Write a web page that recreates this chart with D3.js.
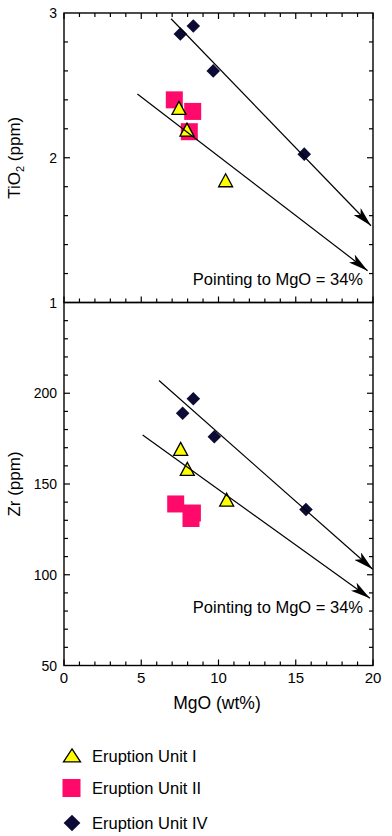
<!DOCTYPE html>
<html><head><meta charset="utf-8">
<script src="https://cdn.jsdelivr.net/npm/d3@7"></script>
<style>
body{margin:0;background:#fff;}
svg{display:block;font-family:"Liberation Sans",Arial,Helvetica,sans-serif;}
</style></head>
<body><svg id="c" width="392" height="836"></svg>
<script>
// ---- data ----
const unitI_MgO   = [7.44, 7.96, 10.46];
const unitI_TiO2  = [2.34, 2.19, 1.84];
const unitI_MgO_Zr = [7.55, 7.98, 10.53];
const unitI_Zr    = [169, 158, 141];

const unitII_MgO  = [7.14, 8.33, 8.11];
const unitII_TiO2 = [2.40, 2.32, 2.18];
const unitII_MgO_Zr = [7.23, 8.31, 8.22];
const unitII_Zr   = [139, 134, 131];

const unitIV_MgO  = [7.53, 8.37, 9.66, 15.55];
const unitIV_TiO2 = [2.855, 2.91, 2.60, 2.025];
const unitIV_MgO_Zr = [7.68, 8.37, 9.73, 15.66];
const unitIV_Zr   = [189, 197, 176, 136];

// trend lines [MgO start, value start, MgO end, value end]
const tiLines = [[6.93, 2.96, 19.87, 1.53], [4.75, 2.44, 19.65, 1.22]];
const zrLines = [[6.15, 207, 19.98, 103], [5.09, 177, 19.8, 87]];

const xTicks = [0, 5, 10, 15, 20];
const tiTicks = [1, 2, 3];
const zrTicks = [50, 100, 150, 200];
const legendLabels = ["Eruption Unit I", "Eruption Unit II", "Eruption Unit IV"];
const annotation = "Pointing to MgO = 34%";

// ---- drawing ----
const svg = d3.select("#c");
const x = d3.scaleLinear().domain([0, 20]).range([64, 373]);
const yTi = d3.scaleLinear().domain([1, 3]).range([302.5, 13]);
const yZr = d3.scaleLinear().domain([50, 250]).range([665.5, 302.5]);

const defs = svg.append("defs");
defs.append("marker").attr("id","arr").attr("viewBox","0 0 20 10")
  .attr("refX",20).attr("refY",5).attr("markerWidth",20).attr("markerHeight",10)
  .attr("markerUnits","userSpaceOnUse").attr("orient","auto")
  .append("path").attr("d","M0,0 L20,5 L0,10 L5,5 Z").attr("fill","#000");

const navy = "#0b0b35", pink = "#ff0a6a", yellow = "#ffff00";

function tri(cx, cy, w, h){ return `M${cx},${cy-h*0.55} L${cx+w/2},${cy+h*0.45} L${cx-w/2},${cy+h*0.45} Z`; }

function panel(y, yMinor, yLabels, ticksTopX, ticksBottomX, mg, vals, lines, title, titleSub, annY){
  const g = svg.append("g");
  const [x0,x1] = x.range(); const [yb,yt] = y.range();
  const tk = g.append("g").attr("stroke","#000").attr("stroke-width",1.2);
  d3.range(0, 21, 1).forEach(v=>{
    const L = v%5===0 ? 6 : 4;
    if (ticksTopX) tk.append("line").attr("x1",x(v)).attr("x2",x(v)).attr("y1",yt).attr("y2",yt+L);
    if (ticksBottomX) tk.append("line").attr("x1",x(v)).attr("x2",x(v)).attr("y1",yb).attr("y2",yb-L);
  });
  yMinor.forEach(v=>{
    tk.append("line").attr("x1",x0).attr("x2",x0+4).attr("y1",y(v)).attr("y2",y(v));
    tk.append("line").attr("x1",x1).attr("x2",x1-4).attr("y1",y(v)).attr("y2",y(v));
  });
  g.append("rect").attr("x",x0).attr("y",yt).attr("width",x1-x0).attr("height",yb-yt)
    .attr("fill","none").attr("stroke","#000").attr("stroke-width",1.4);
  yLabels.forEach(v=>{
    g.append("text").attr("x",x0-7).attr("y",y(v)).attr("dy","0.36em").attr("text-anchor","end")
      .attr("font-size",14).text(v);
  });
  const [mI,vI,mII,vII,mIV,vIV] = [mg[0],vals[0],mg[1],vals[1],mg[2],vals[2]];
  mII.forEach((m,i)=>{ g.append("rect").attr("x",x(m)-8.5).attr("y",y(vII[i])-8.5).attr("width",17).attr("height",17).attr("fill",pink); });
  mI.forEach((m,i)=>{ g.append("path").attr("d",tri(x(m),y(vI[i]),14,13)).attr("fill",yellow).attr("stroke","#000").attr("stroke-width",1.3); });
  mIV.forEach((m,i)=>{ g.append("path").attr("d",d3.symbol(d3.symbolSquare, 92)()).attr("transform",`translate(${x(m)},${y(vIV[i])}) rotate(45)`).attr("fill",navy); });
  lines.forEach(l=>{
    g.append("line").attr("x1",x(l[0])).attr("y1",y(l[1])).attr("x2",x(l[2])).attr("y2",y(l[3]))
      .attr("stroke","#000").attr("stroke-width",1.2).attr("marker-end","url(#arr)");
  });
  g.append("text").attr("x",363).attr("y",annY).attr("text-anchor","end").attr("font-size",16.5).text(annotation);
  const t = g.append("text").attr("transform",`translate(20,${(yt+yb)/2}) rotate(-90)`).attr("text-anchor","middle").attr("font-size",17);
  if (titleSub){
    t.append("tspan").text(title);
    t.append("tspan").attr("font-size",11).attr("dy",4).text(titleSub);
    t.append("tspan").attr("dy",-4).text(" (ppm)");
  } else t.text(title);
}

panel(yTi, d3.range(1.2, 2.9, 0.2).filter(v=>Math.abs(v-2)>0.01), tiTicks, true, true,
  [unitI_MgO, unitII_MgO, unitIV_MgO], [unitI_TiO2, unitII_TiO2, unitIV_TiO2], tiLines, "TiO", "2", 285);
panel(yZr, d3.range(60, 250, 10).filter(v=>v%50!==0), zrTicks, false, true,
  [unitI_MgO_Zr, unitII_MgO_Zr, unitIV_MgO_Zr], [unitI_Zr, unitII_Zr, unitIV_Zr], zrLines, "Zr (ppm)", null, 613);

svg.append("g").attr("stroke","#000").attr("stroke-width",1.2).call(g=>{
  [[yTi,[2]],[yZr,[100,150,200]]].forEach(([y,vs])=>vs.forEach(v=>{
    g.append("line").attr("x1",64).attr("x2",70).attr("y1",y(v)).attr("y2",y(v));
    g.append("line").attr("x1",373).attr("x2",367).attr("y1",y(v)).attr("y2",y(v));
  }));
});

xTicks.forEach(v=>{
  svg.append("text").attr("x",x(v)).attr("y",683).attr("text-anchor","middle").attr("font-size",15).text(v);
});
svg.append("text").attr("x",217).attr("y",709).attr("text-anchor","middle").attr("font-size",17.5).text("MgO (wt%)");

const ly = [756, 788, 823];
svg.append("path").attr("d",tri(72, ly[0], 17, 13)).attr("fill",yellow).attr("stroke","#000").attr("stroke-width",1.3);
svg.append("rect").attr("x",62.5).attr("y",ly[1]-9).attr("width",18).attr("height",18).attr("fill",pink);
svg.append("path").attr("d",d3.symbol(d3.symbolSquare, 140)()).attr("transform",`translate(72,${ly[2]}) rotate(45)`).attr("fill",navy);
legendLabels.forEach((t,i)=>{
  svg.append("text").attr("x",92).attr("y",ly[i]).attr("dy","0.36em").attr("font-size",16.5).text(t);
});
</script></body></html>
